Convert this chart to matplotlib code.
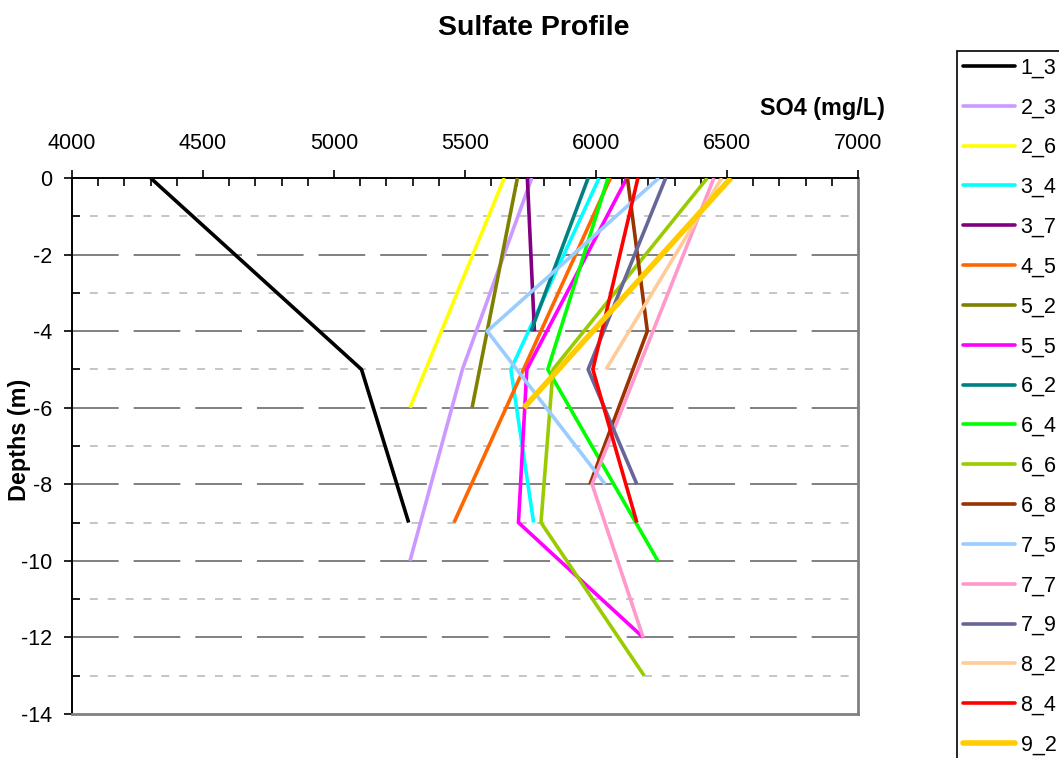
import numpy as np
import matplotlib
import matplotlib.pyplot as plt
from matplotlib.ticker import MultipleLocator

matplotlib.use('Agg')
plt.rcParams['font.family'] = ['Liberation Sans', 'DejaVu Sans']
plt.rcParams['axes.unicode_minus'] = False

# sample labels (as visible in the legend)
labels = ['1_3', '2_3', '2_6', '3_4', '3_7', '4_5', '5_2', '5_5', '6_2',
          '6_4', '6_6', '6_8', '7_5', '7_7', '7_9', '8_2', '8_4', '9_2']

# sulfate (mg/L) and depth (m) per sample
so4 = [
    [4300, 5105, 5285],
    [5755, 5490, 5290],
    [5650, 5290],
    [6012, 5675, 5762],
    [5738, 5765],
    [6055, 5458],
    [5700, 5527],
    [6118, 5736, 5704, 6180],
    [5970, 5752],
    [6046, 5816, 6236],
    [6425, 5836, 5790, 6184],
    [6120, 6196, 5977],
    [6240, 5585, 6035],
    [6450, 5985, 6180],
    [6266, 5970, 6156],
    [6480, 6038],
    [6160, 5988, 6156],
    [6515, 5725],
]
depth = [
    [0, -5, -9],
    [0, -5, -10],
    [0, -6],
    [0, -5, -9],
    [0, -4],
    [0, -9],
    [0, -6],
    [0, -5, -9, -12],
    [0, -4],
    [0, -5, -10],
    [0, -5, -9, -13],
    [0, -4, -8],
    [0, -4, -8],
    [0, -8, -12],
    [0, -5, -8],
    [0, -5],
    [0, -5, -9],
    [0, -6],
]
colors = ['#000000', '#CC99FF', '#FFFF00', '#00FFFF', '#800080', '#FF6600',
          '#808000', '#FF00FF', '#008080', '#00FF00', '#99CC00', '#993300',
          '#99CCFF', '#FF99CC', '#666699', '#FFCC99', '#FF0000', '#FFCC00']

fig = plt.figure(figsize=(10.59, 7.58), dpi=100)
ax = fig.add_axes([72 / 1059, 1 - 714 / 758, 786 / 1059, 536 / 758])

for i in range(len(labels)):
    lw = 4.0 if labels[i] == '9_2' else 2.6
    ax.plot(so4[i], depth[i], color=colors[i], lw=lw, label=labels[i],
            solid_capstyle='butt', zorder=3)

ax.set_xlim(4000, 7000)
ax.set_ylim(-14, 0)
ax.xaxis.tick_top()
ax.xaxis.set_major_locator(MultipleLocator(500))
ax.xaxis.set_minor_locator(MultipleLocator(100))
ax.yaxis.set_major_locator(MultipleLocator(2))
ax.yaxis.set_minor_locator(MultipleLocator(1))
ax.tick_params(which='major', direction='out', length=6, width=1.2,
               labelsize=15.5, color='black')
ax.tick_params(axis='x', which='major', pad=11.5)
ax.tick_params(axis='y', which='major', pad=8)
ax.tick_params(which='minor', direction='in', length=6, width=1.2,
               color='black')

# gridlines
for v in np.arange(-14, 1, 2):
    if v not in (0, -14):
        ax.axhline(v, color='#808080', lw=1.4, dashes=(24, 7.7), zorder=1)
for v in np.arange(-13, 0, 2):
    ax.axhline(v, color='#C0C0C0', lw=1.3, dashes=(4.4, 5.5), zorder=1)

ax.spines['top'].set_color('black')
ax.spines['left'].set_color('black')
ax.spines['top'].set_linewidth(1.4)
ax.spines['left'].set_linewidth(1.4)
ax.spines['right'].set_color('#808080')
ax.spines['bottom'].set_color('#808080')
ax.spines['right'].set_linewidth(2)
ax.spines['bottom'].set_linewidth(2)

fig.text(534 / 1059, 1 - 28 / 758, 'Sulfate Profile', ha='center', va='center',
         fontsize=20.5, fontweight='bold')
fig.text(885 / 1059, 1 - 108 / 758, 'SO4 (mg/L)', ha='right', va='center',
         fontsize=16.8, fontweight='bold')
fig.text(20 / 1059, 1 - 440 / 758, 'Depths (m)', ha='center', va='center',
         rotation=90, fontsize=16.8, fontweight='bold')

leg = fig.legend(loc='upper left', bbox_to_anchor=(957 / 1059, 1 - 51 / 758, 0.2, 0.0),
                 mode='expand', fontsize=15.5, handlelength=2.4, handletextpad=0.25,
                 labelspacing=0.875, borderpad=0.3, borderaxespad=0, fancybox=False,
                 framealpha=1, edgecolor='black')
leg.get_frame().set_linewidth(1.2)
for h in leg.get_lines():
    h.set_solid_capstyle('round')

fig.savefig('out.png', dpi=100)
